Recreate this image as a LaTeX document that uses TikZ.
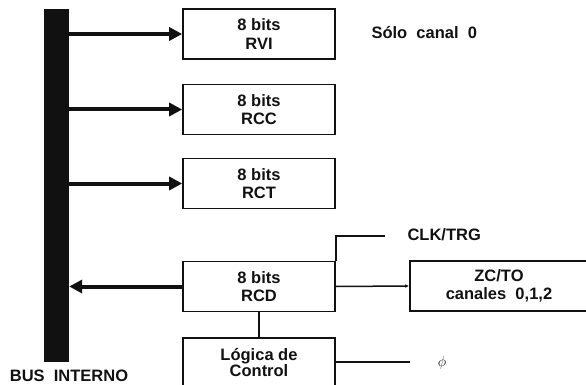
\documentclass[tikz,border=0pt]{standalone}
\usepackage{fontspec}
\setmainfont{Liberation Sans}
\usetikzlibrary{arrows.meta}
\definecolor{plateink}{HTML}{111111}

\begin{document}
\begin{tikzpicture}[x=1pt, y=-1pt,
  every node/.style={font=\bfseries\fontsize{16.5}{18.5}\selectfont, text=plateink},
  regbox/.style={draw=plateink, line width=1.6pt, minimum width=152pt, minimum height=50pt, inner sep=0pt, align=center},
  busarrow/.style={draw=plateink, line width=4pt, -{Triangle[length=13pt,width=13pt]}},
  wire/.style={draw=plateink, line width=1.5pt}]

  \clip (0,0) rectangle (586,385);

  % bus bar
  \node[fill=plateink, inner sep=0pt, minimum width=25pt, minimum height=353pt] (bus) at (56.5,185.5) {};
  \node (busname) at (69,376) {BUS~~INTERNO};

  % registers
  \node[regbox] (rvi) at (259,34) {8 bits\\RVI};
  \node[regbox] (rcc) at (259,109.5) {8 bits\\RCC};
  \node[regbox] (rct) at (259,183.5) {8 bits\\RCT};
  \node[regbox] (rcd) at (259,286.5) {8 bits\\RCD};
  \node[regbox, anchor=north, font=\bfseries\fontsize{16.5}{15}\selectfont] (logic) at (259,337) {Lógica de\\Control};
  \node[regbox, minimum width=178pt] (zcto) at (499,286) {ZC/TO\\canales~~0,1,2};

  \node[anchor=west] (solo) at (368,33) {Sólo~~canal~~0};
  \node[anchor=west] (clk) at (404,235) {CLK/TRG};
  \node[font=\fontsize{15}{15}\selectfont] (phi) at (442,363) {$\phi$};

  \coordinate (clkend) at (385,236);
  \coordinate (phiend) at (410,362);

  % bus transfers
  \draw[busarrow] (bus.east |- rvi.west) -- (rvi.west);
  \draw[busarrow] (bus.east |- rcc.west) -- (rcc.west);
  \draw[busarrow] (bus.east |- rct.west) -- (rct.west);
  \draw[busarrow] (rcd.west) -- (bus.east |- rcd.west);

  % control lines
  \draw[wire] (rcd.north east) |- (clkend);
  \draw[wire, -{Latex[length=4pt,width=3.5pt]}] (rcd.east) -- (zcto.west);
  \draw[wire] (rcd.south) -- (logic.north);
  \draw[wire] (logic.east |- phiend) -- (phiend);

\end{tikzpicture}
\end{document}
